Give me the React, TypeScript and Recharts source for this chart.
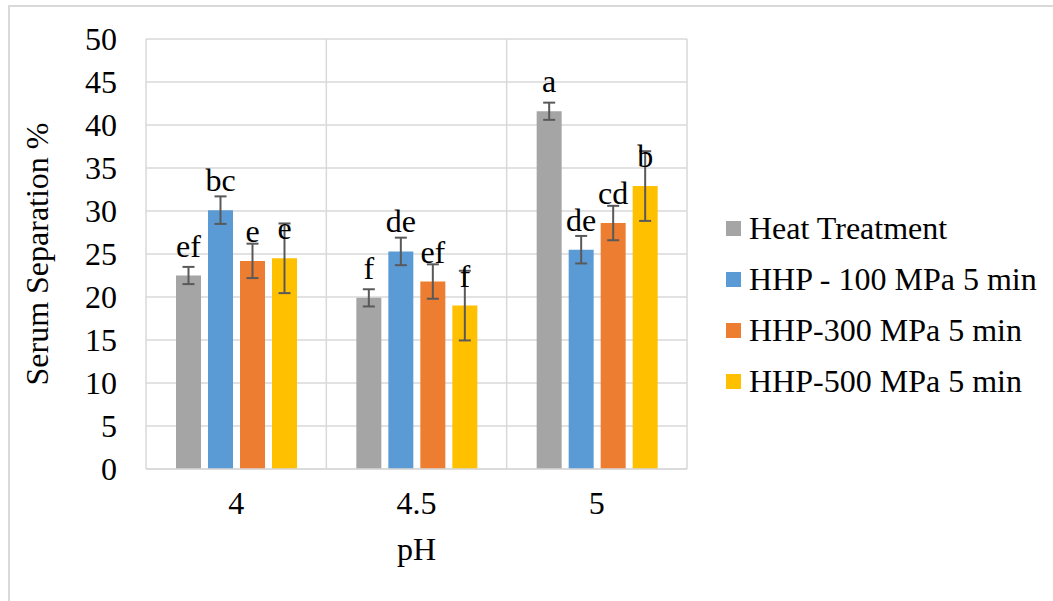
import React from "react";
import {
  BarChart,
  Bar,
  XAxis,
  YAxis,
  CartesianGrid,
  ErrorBar,
  LabelList,
  Legend,
  Label,
} from "recharts";

const phLevels = ["4", "4.5", "5"];

const heatValues = [22.5, 19.9, 41.6];
const hhp100Values = [30.1, 25.3, 25.5];
const hhp300Values = [24.2, 21.8, 28.6];
const hhp500Values = [24.5, 19.0, 32.9];

const heatErrors = [1.0, 1.0, 1.0];
const hhp100Errors = [1.6, 1.6, 1.6];
const hhp300Errors = [2.0, 2.0, 2.0];
const hhp500Errors = [4.05, 4.05, 4.05];

const heatLetters = ["ef", "f", "a"];
const hhp100Letters = ["bc", "de", "de"];
const hhp300Letters = ["e", "ef", "cd"];
const hhp500Letters = ["e", "f", "b"];

const yTicks = [0, 5, 10, 15, 20, 25, 30, 35, 40, 45, 50];

const chartData = phLevels.map((ph, i) => ({
  ph,
  heat: heatValues[i],
  heatErr: heatErrors[i],
  heatLbl: heatLetters[i],
  hhp100: hhp100Values[i],
  hhp100Err: hhp100Errors[i],
  hhp100Lbl: hhp100Letters[i],
  hhp300: hhp300Values[i],
  hhp300Err: hhp300Errors[i],
  hhp300Lbl: hhp300Letters[i],
  hhp500: hhp500Values[i],
  hhp500Err: hhp500Errors[i],
  hhp500Lbl: hhp500Letters[i],
}));

const FONT = '"Liberation Serif", "Times New Roman", serif';
const FS = 32;
const GRID = "#d9d9d9";
const ERR = "#595959";

const series = [
  { key: "heat", name: "Heat Treatment", color: "#a5a5a5" },
  { key: "hhp100", name: "HHP - 100 MPa 5 min", color: "#5b9bd5" },
  { key: "hhp300", name: "HHP-300 MPa 5 min", color: "#ed7d31" },
  { key: "hhp500", name: "HHP-500 MPa 5 min", color: "#ffc000" },
];

// keep the legend in series order (recharts 3 sorts by name otherwise)
function LegendBox() {
  return (
    <div style={{ fontFamily: FONT, fontSize: FS, color: "#000" }}>
      {series.map((s) => (
        <div
          key={s.key}
          style={{ display: "flex", alignItems: "center", height: 51 }}
        >
          <span
            style={{
              display: "inline-block",
              width: 15,
              height: 15,
              background: s.color,
              marginRight: 8,
            }}
          />
          <span style={{ whiteSpace: "nowrap" }}>{s.name}</span>
        </div>
      ))}
    </div>
  );
}

const textStyle = { fontSize: FS, fill: "#000", fontFamily: FONT };

export default function App() {
  return (
    <div
      style={{
        position: "absolute",
        left: 0,
        top: 0,
        width: 1053,
        height: 601,
        background: "#fff",
        overflow: "hidden",
      }}
    >
      <div
        style={{
          position: "absolute",
          left: 8,
          top: 5,
          width: 1060,
          height: 610,
          borderLeft: `2px solid ${GRID}`,
          borderTop: `2px solid ${GRID}`,
        }}
      />
      <BarChart
        width={1053}
        height={601}
        data={chartData}
        margin={{ top: 39, right: 366, left: 0, bottom: 0 }}
        barSize={25}
        barGap={7}
        style={{ fontFamily: FONT }}
      >
        <CartesianGrid
          stroke={GRID}
          strokeWidth={1.5}
          verticalCoordinatesGenerator={({ offset }: any) =>
            [0, 1, 2, 3].map(
              (i) => offset.left + (i * offset.width) / phLevels.length
            )
          }
        />
        <XAxis
          dataKey="ph"
          height={132}
          tickLine={false}
          axisLine={{ stroke: GRID, strokeWidth: 1.5 }}
          tick={textStyle}
          tickMargin={16}
          interval={0}
        >
          <Label value="pH" position="insideBottom" offset={41} style={textStyle} />
        </XAxis>
        <YAxis
          width={146}
          domain={[0, 50]}
          ticks={yTicks}
          tickLine={false}
          axisLine={false}
          tickSize={0}
          tickMargin={29}
          tick={textStyle}
        >
          <Label
            content={({ viewBox }: any) => {
              const cx = viewBox.x + 37;
              const cy = viewBox.y + viewBox.height / 2;
              return (
                <text
                  x={cx}
                  y={cy}
                  transform={`rotate(-90, ${cx}, ${cy})`}
                  textAnchor="middle"
                  dominantBaseline="central"
                  style={textStyle}
                >
                  Serum Separation %
                </text>
              );
            }}
          />
        </YAxis>
        <Legend
          layout="horizontal"
          verticalAlign="middle"
          align="center"
          content={<LegendBox />}
          wrapperStyle={{ left: 726, top: 203, width: 330 }}
        />
        {series.map((s) => (
          <Bar
            key={s.key}
            dataKey={s.key}
            name={s.name}
            fill={s.color}
            isAnimationActive={false}
          >
            <ErrorBar
              dataKey={`${s.key}Err`}
              width={6}
              stroke={ERR}
              strokeWidth={2}
            />
            <LabelList
              dataKey={`${s.key}Lbl`}
              position="top"
              offset={19}
              style={textStyle}
            />
          </Bar>
        ))}
      </BarChart>
    </div>
  );
}
